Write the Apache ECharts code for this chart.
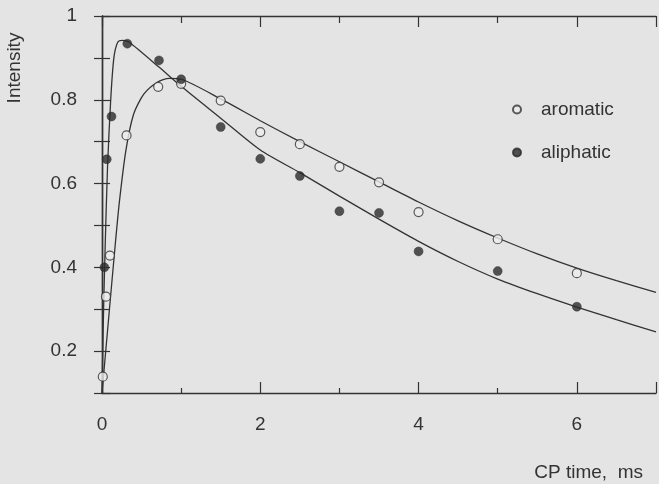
<!DOCTYPE html>
<html>
<head>
<meta charset="utf-8">
<script src="https://cdn.jsdelivr.net/npm/echarts@6/dist/echarts.min.js"></script>
<style>
html,body{margin:0;padding:0;background:#e4e4e4;}
#chart{width:659px;height:484px;}
</style>
</head>
<body>
<div id="chart"></div>
<script>
// Measured points
const aromaticX = [0.01, 0.05, 0.1, 0.31, 0.71, 1.0, 1.5, 2.0, 2.5, 3.0, 3.5, 4.0, 5.0, 6.0];
const aromaticY = [0.139, 0.33, 0.428, 0.715, 0.831, 0.838, 0.798, 0.723, 0.694, 0.64, 0.603, 0.532, 0.467, 0.386];
const aliphaticX = [0.03, 0.06, 0.12, 0.32, 0.72, 1.0, 1.5, 2.0, 2.5, 3.0, 3.5, 4.0, 5.0, 6.0];
const aliphaticY = [0.40, 0.658, 0.76, 0.934, 0.894, 0.849, 0.735, 0.659, 0.618, 0.534, 0.53, 0.438, 0.391, 0.306];
// Fitted curves
const aromaticFitX = [0, 0.08, 0.17, 0.22, 0.3, 0.4, 0.53, 0.7, 0.85, 1.0, 1.5, 2.0, 2.5, 3.0, 3.5, 4.0, 4.5, 5.0, 5.5, 6.0, 6.5, 7.0];
const aromaticFitY = [0.1, 0.27, 0.46, 0.557, 0.677, 0.766, 0.814, 0.842, 0.851, 0.849, 0.802, 0.75, 0.70, 0.652, 0.604, 0.556, 0.511, 0.47, 0.432, 0.398, 0.368, 0.34];
const aliphaticFitX = [0, 0.02, 0.04, 0.07, 0.11, 0.15, 0.2, 0.26, 0.34, 0.72, 1.0, 1.5, 2.0, 2.5, 3.0, 3.5, 4.0, 4.5, 5.0, 5.5, 6.0, 6.5, 7.0];
const aliphaticFitY = [0.1, 0.3, 0.45, 0.64, 0.8, 0.9, 0.938, 0.942, 0.938, 0.878, 0.832, 0.756, 0.68, 0.626, 0.570, 0.515, 0.462, 0.414, 0.372, 0.337, 0.305, 0.275, 0.246];
const xTickLabels = ['0', '2', '4', '6'];
const yTickLabels = ['0.2', '0.4', '0.6', '0.8', '1'];
const seriesNames = ['aromatic', 'aliphatic'];

const zip = (xs, ys) => xs.map((x, i) => [x, ys[i]]);
const ink = '#333';
const font = 'Liberation Sans, Arial, sans-serif';

const chart = echarts.init(document.getElementById('chart'), null, {renderer: 'canvas'});
const xFmt = v => { const s = String(Math.round(v)); return xTickLabels.includes(s) && Math.abs(v - Math.round(v)) < 1e-6 ? s : ''; };
const yFmt = v => { const k = Math.round(v * 10); const s = k === 10 ? '1' : String(k / 10); return yTickLabels.includes(s) ? s : ''; };

chart.setOption({
  animation: false,
  backgroundColor: '#e4e4e4',
  textStyle: {fontFamily: font, color: ink},
  grid: {left: 102, top: 16, width: 559, height: 377},
  xAxis: [{
    type: 'value', min: 0, max: 7, interval: 2, position: 'bottom',
    axisLine: {lineStyle: {color: ink, width: 1.4}},
    axisTick: {inside: true, length: 11, lineStyle: {color: ink, width: 1.2}},
    minorTick: {show: true, splitNumber: 2, length: 5, lineStyle: {color: ink, width: 1.2}},
    axisLabel: {formatter: xFmt, fontSize: 19, color: ink, margin: 22, fontFamily: font},
    splitLine: {show: false}
  }, {
    type: 'value', min: 0, max: 7, interval: 2, position: 'top',
    axisLine: {show: true, lineStyle: {color: ink, width: 1.4}},
    axisTick: {show: true, inside: true, length: 11, lineStyle: {color: ink, width: 1.2}},
    minorTick: {show: true, splitNumber: 2, length: 7, lineStyle: {color: ink, width: 1.2}},
    axisLabel: {show: false},
    splitLine: {show: false}
  }],
  yAxis: [{
    type: 'value', min: 0.1, max: 1.0, interval: 0.1, position: 'left',
    axisLine: {show: true, lineStyle: {color: ink, width: 1.4}},
    axisTick: {show: true, inside: true, length: 8, lineStyle: {color: ink, width: 1.2}},
    axisLabel: {formatter: yFmt, fontSize: 19, color: ink, margin: 25, fontFamily: font},
    splitLine: {show: false}
  }, {
    type: 'value', min: 0.1, max: 1.0, interval: 0.1, position: 'right',
    axisLine: {show: true, lineStyle: {color: ink, width: 1.4}},
    axisTick: {show: true, inside: true, length: 8, lineStyle: {color: ink, width: 1.2}},
    axisLabel: {show: false},
    splitLine: {show: false}
  }],
  legend: {
    data: seriesNames,
    orient: 'vertical', left: 507, top: 95,
    itemWidth: 8, itemHeight: 8, itemGap: 24,
    textStyle: {fontSize: 19, color: ink, fontFamily: font, padding: [0, 0, 0, 15]}
  },
  graphic: [{
    type: 'text', x: 15, y: 68, rotation: Math.PI / 2,
    style: {text: 'Intensity', fontSize: 19, fontFamily: font, fill: ink, textAlign: 'center', textVerticalAlign: 'middle'}
  }, {
    type: 'text', x: 643, y: 473,
    style: {text: 'CP time,  ms', fontSize: 19, fontFamily: font, fill: ink, textAlign: 'right', textVerticalAlign: 'middle'}
  }],
  series: [{
    name: 'aromatic fit', type: 'line', data: zip(aromaticFitX, aromaticFitY),
    showSymbol: false, smooth: 0.25,
    lineStyle: {color: ink, width: 1.3}, z: 2
  }, {
    name: 'aliphatic fit', type: 'line', data: zip(aliphaticFitX, aliphaticFitY),
    showSymbol: false, smooth: 0.25,
    lineStyle: {color: ink, width: 1.3}, z: 2
  }, {
    name: 'aromatic', type: 'scatter', data: zip(aromaticX, aromaticY),
    symbol: 'circle', symbolSize: 9,
    itemStyle: {color: '#ececec', borderColor: ink, borderWidth: 1.2}, z: 3
  }, {
    name: 'aliphatic', type: 'scatter', data: zip(aliphaticX, aliphaticY),
    symbol: 'circle', symbolSize: 9,
    itemStyle: {color: '#2a2a2a', borderColor: '#2a2a2a', borderWidth: 0.5}, z: 3
  }]
});
</script>
</body>
</html>
